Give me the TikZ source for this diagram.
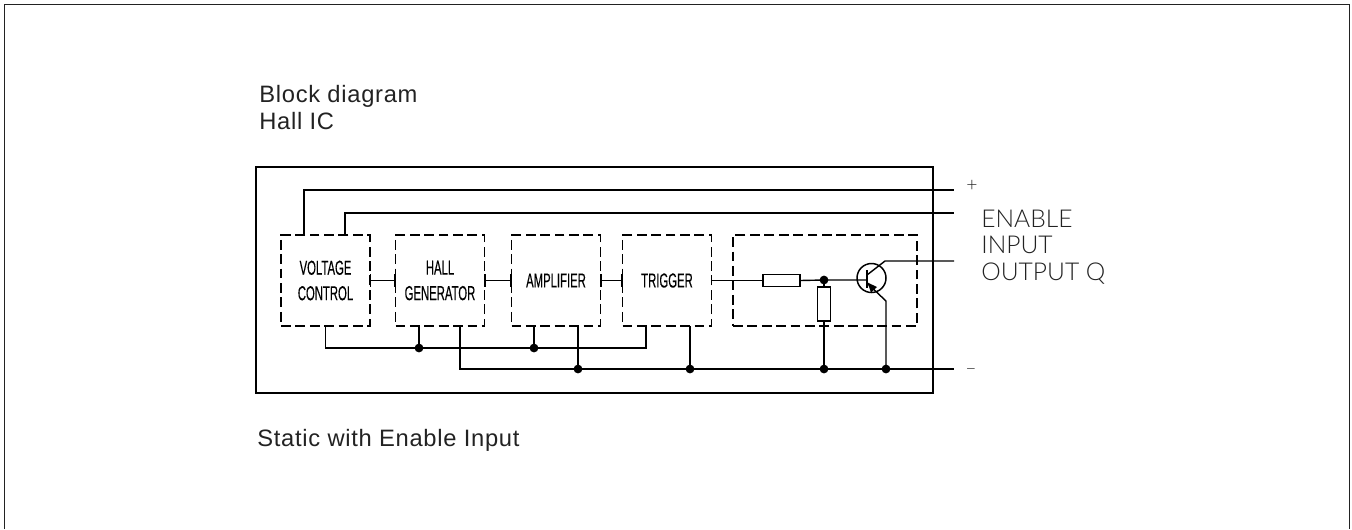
\documentclass[tikz,border=0pt]{standalone}
\usepackage{fontspec}
\setmainfont[LetterSpace=3]{Liberation Sans}
\newfontfamily\blockfont[FakeStretch=0.56,FakeBold=0.3]{Liberation Sans}
\newfontfamily\pinfont{Lato Light}
\definecolor{inktext}{HTML}{222222}
\tikzset{
  wire/.style={line width=0.8pt},
  railwire/.style={line width=1.15pt},
  hallblock/.style={draw, dashed, dash pattern=on 5.6pt off 2.6pt, line width=0.75pt, inner sep=0pt, outer sep=0pt, minimum width=1.78cm, minimum height=1.82cm, align=center, font=\blockfont\fontsize{11.5}{14.5}\selectfont},
  jdot/.style={circle, fill=black, inner sep=0pt, minimum size=5pt},
  resbox/.style={draw, line width=0.75pt, inner sep=0pt, outer sep=0pt, fill=white},
  caption/.style={anchor=base west, inner sep=0pt, text=inktext, font=\fontsize{13.5}{15}\selectfont},
  pinlabel/.style={anchor=base west, inner sep=0pt, text=inktext, font=\pinfont\fontsize{14}{16}\selectfont},
  signlabel/.style={inner sep=0pt, text=inktext, font=\pinfont\fontsize{11}{12}\selectfont}
}
\begin{document}
\begin{tikzpicture}[x=0.02cm,y=-0.02cm]
    \useasboundingbox (0,0) rectangle (1352,529);

    % Page frame
    \draw[line width=0.6pt, inktext] (4.5,529) -- (4.5,4.5) -- (1349.5,4.5) -- (1349.5,529);

    % Captions
    \node[caption] (title) at (259,102) {Block diagram};
    \node[caption] (titleb) at (259,129) {Hall IC};
    \node[caption] (static) at (257,446) {Static with Enable Input};

    % Hall IC outline
    \draw[line width=1.05pt] (256,167) rectangle (933,393);

    % Blocks
    \node[hallblock] (voltage) at (325.5,280.5) {VOLTAGE\\CONTROL};
    \node[hallblock] (hall) at (440,280.5) {HALL\\GENERATOR};
    \node[hallblock] (amp) at (556,280.5) {AMPLIFIER};
    \node[hallblock] (trigger) at (667,280.5) {TRIGGER};
    \node[hallblock, minimum width=3.68cm] (output) at (825,280.5) {};

    % Free ends of the wires
    \coordinate (plus) at (954,190);
    \coordinate (enable) at (954,213);
    \coordinate (outq) at (954,261);
    \coordinate (minus) at (954,369);

    % Supply and enable rails
    \draw[railwire] (voltage.north -| 304,0) -- (304,190) -- (plus);
    \draw[wire] (voltage.north -| 345,0) -- (345,213) -- (enable);

    % Signal path
    \draw[wire, |-|] (voltage.east) -- (hall.west);
    \draw[wire, |-|] (hall.east) -- (amp.west);
    \draw[wire, |-|] (amp.east) -- (trigger.west);

    % Output stage
    \node[resbox, minimum width=0.74cm, minimum height=0.24cm] (rbase) at (781.5,280.5) {};
    \node[resbox, minimum width=0.26cm, minimum height=0.68cm] (rpull) at (824,304) {};
    \node[jdot] (jbase) at (824,280) {};
    \node[circle, draw, line width=0.85pt, inner sep=0pt, outer sep=0pt, minimum size=0.58cm] (tr) at (871.5,278) {};
    \coordinate (trbase) at (867,280);
    \draw[wire] (trigger.east) -- (rbase.west);
    \draw[wire] (rbase.east) -- (jbase.center) -- (trbase);
    \draw[wire] (jbase.center) -- (rpull.north);
    \draw[line width=1.1pt] (867,270) -- (867,288);
    \draw[wire] (outq) -- (885,261) -- (867,275);

    % Ground lines
    \node[jdot] (ja) at (419,348) {};
    \node[jdot] (jb) at (534,348) {};
    \node[jdot] (jc) at (578,369) {};
    \node[jdot] (jd) at (690,369) {};
    \node[jdot] (je) at (824,369) {};
    \node[jdot] (jf) at (886,369) {};
    \draw[wire] (voltage.south) -- (325.5,348) -- (646,348) -- (646,326);
    \draw[wire] (hall.south -| ja) -- (ja.center);
    \draw[wire] (amp.south -| jb) -- (jb.center);
    \draw[wire] (amp.south -| jc) -- (jc.center);
    \draw[wire] (hall.south -| 460,0) -- (460,369) -- (minus);
    \draw[wire] (trigger.south -| jd) -- (jd.center);
    \draw[wire] (rpull.south) -- (je.center);
    \draw[wire] (jf.center) -- (886,301) -- (867,283);
    \fill (867.5,282.5) -- (877,287) -- (871,292.5) -- cycle;

    % Pin labels
    \node[signlabel] (plabel) at (972,186) {+};
    \node[pinlabel] (enlabel) at (981,227) {ENABLE};
    \node[pinlabel] (inlabel) at (981,253) {INPUT};
    \node[pinlabel] (qlabel) at (981,280) {OUTPUT Q};
    \node[signlabel] (mlabel) at (971,372) {\char"2013};
\end{tikzpicture}
\end{document}
